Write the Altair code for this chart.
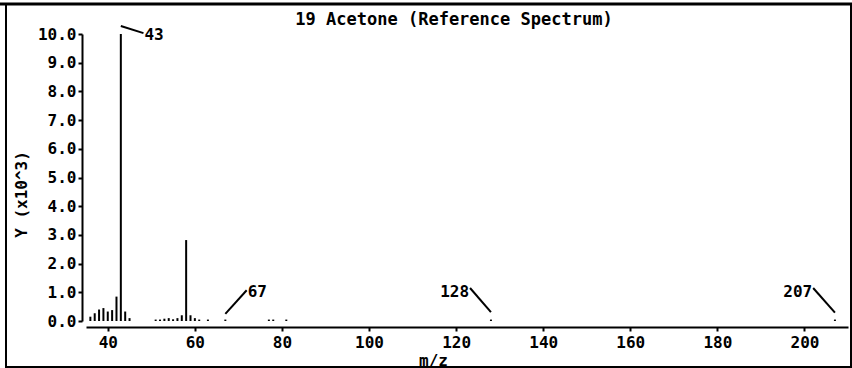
import altair as alt
import pandas as pd

# ---- data ----
mz = [36, 37, 38, 39, 40, 41, 42, 43, 44, 45,
      51, 52, 53, 54, 55, 56, 57, 58, 59, 60, 61, 63,
      67, 77, 78, 81, 128, 207]
intensity = [0.15, 0.27, 0.40, 0.45, 0.33, 0.38, 0.85, 10.0, 0.33, 0.10,
             0.05, 0.05, 0.08, 0.10, 0.06, 0.10, 0.20, 2.82, 0.20, 0.10, 0.05, 0.05,
             0.05, 0.05, 0.05, 0.05, 0.05, 0.05]
label_mz = [43, 67, 128, 207]
label_text = ["43", "67", "128", "207"]
title_text = ["19 Acetone (Reference Spectrum)"]
x_ticks = [40, 60, 80, 100, 120, 140, 160, 180, 200]
y_ticks = [0, 1, 2, 3, 4, 5, 6, 7, 8, 9, 10]

# leader-line geometry (style, in axis units)
lead_y1 = [10.28, 0.25, 0.31, 0.29]
lead_x2 = [48.2, 71.9, 123.2, 202.0]
lead_y2 = [10.03, 1.07, 1.15, 1.15]
text_y = [9.97, 1.02, 1.01, 1.01]
text_align = ["left", "left", "right", "right"]

FONT = "DejaVu Sans Mono"

peaks = pd.DataFrame({"mz": mz, "y": intensity})
labels = pd.DataFrame({
    "mz": label_mz, "text": label_text, "y1": lead_y1,
    "x2": lead_x2, "y2": lead_y2, "ty": text_y, "align": text_align,
})

xscale = alt.Scale(domain=[35, 210], nice=False, zero=False)
yscale = alt.Scale(domain=[0, 10], nice=False)

x_axis = alt.Axis(
    values=x_ticks, title="m/z", offset=6, domainColor="black", domainWidth=2,
    tickColor="black", tickSize=4, tickWidth=2, labelFont=FONT, labelFontSize=16,
    labelFontWeight="bold", labelColor="black", labelPadding=3, labelOverlap=False,
    titleFont=FONT, titleFontSize=16, titleFontWeight="bold", titleColor="black",
    titleX=347, titlePadding=2, grid=False)
y_axis = alt.Axis(
    values=y_ticks, tickCount=11, format=".1f", title="Y (x10^3)", offset=4,
    domainColor="black", domainWidth=2, tickColor="black", tickSize=4, tickWidth=2,
    labelFont=FONT, labelFontSize=16, labelFontWeight="bold", labelColor="black",
    labelPadding=2, labelOverlap=False, titleFont=FONT, titleFontSize=16,
    titleFontWeight="bold", titleColor="black", titleY=160, titlePadding=8,
    grid=False)

bars = alt.Chart(peaks).mark_rule(color="black", strokeWidth=2).encode(
    x=alt.X("mz:Q", scale=xscale, axis=x_axis, title="m/z"),
    y=alt.Y("y:Q", scale=yscale, axis=y_axis, title="Y (x10^3)"),
    y2=alt.datum(0),
)

left_labels = labels[labels["align"] == "left"]
right_labels = labels[labels["align"] == "right"]

leaders = alt.Chart(labels).mark_rule(color="black", strokeWidth=2).encode(
    x=alt.X("mz:Q", scale=xscale, axis=x_axis, title="m/z"),
    y=alt.Y("y1:Q", scale=yscale, axis=y_axis, title="Y (x10^3)"),
    x2="x2:Q", y2="y2:Q",
)

txt_left = alt.Chart(left_labels).mark_text(
    align="left", baseline="middle", font=FONT, fontSize=16, fontWeight="bold",
    color="black", dx=1,
).encode(x=alt.X("x2:Q", scale=xscale, axis=x_axis, title="m/z"),
         y=alt.Y("ty:Q", scale=yscale, axis=y_axis, title="Y (x10^3)"), text="text:N")

txt_right = alt.Chart(right_labels).mark_text(
    align="right", baseline="middle", font=FONT, fontSize=16, fontWeight="bold",
    color="black", dx=-1,
).encode(x=alt.X("x2:Q", scale=xscale, axis=x_axis, title="m/z"),
         y=alt.Y("ty:Q", scale=yscale, axis=y_axis, title="Y (x10^3)"), text="text:N")

title_df = pd.DataFrame({"t": title_text})
title = alt.Chart(title_df).mark_text(
    align="center", baseline="middle", font=FONT, fontSize=17, fontWeight="bold",
    color="black",
).encode(x=alt.value(368), y=alt.value(-14), text="t:N")

frame_df = pd.DataFrame({"k": [0]})
frame = alt.Chart(frame_df).mark_rect(
    fill=None, stroke="black", strokeWidth=2
).encode(x=alt.value(-80), x2=alt.value(765), y=alt.value(-30), y2=alt.value(333))
topband = alt.Chart(frame_df).mark_rule(color="black", strokeWidth=3).encode(
    x=alt.value(-86), x2=alt.value(766), y=alt.value(-30))

chart = alt.layer(bars, leaders, txt_left, txt_right, frame, topband, title).properties(
    width=762, height=287,
    autosize=alt.AutoSizeParams(type="none"),
    padding={"left": 86, "top": 34, "right": 4, "bottom": 47},
    background="white",
).configure_view(stroke=None, strokeWidth=0)

chart.save("out.html", embed_options={"renderer": "svg", "actions": False})
